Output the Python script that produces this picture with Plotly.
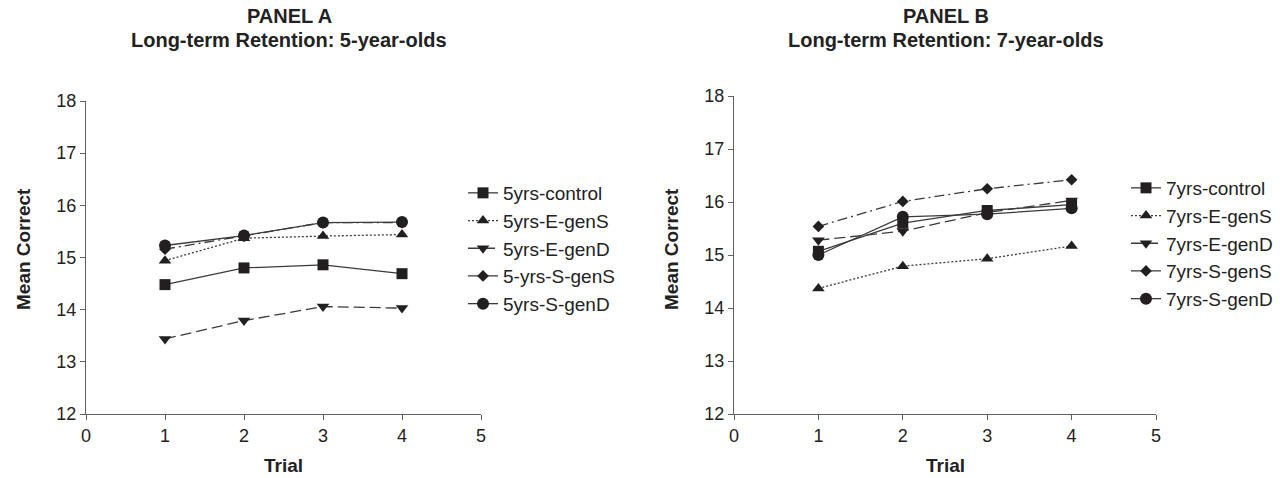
import plotly.graph_objects as go

trials = [1, 2, 3, 4]

# Panel A (5-year-olds)
a_control = [14.48, 14.80, 14.86, 14.69]
a_e_gens = [14.94, 15.37, 15.41, 15.44]
a_e_gend = [13.44, 13.79, 14.06, 14.03]
a_s_gens = [15.16, 15.41, 15.67, 15.67]
a_s_gend = [15.23, 15.42, 15.67, 15.68]

# Panel B (7-year-olds)
b_control = [15.07, 15.60, 15.84, 15.95]
b_e_gens = [14.37, 14.79, 14.93, 15.17]
b_e_gend = [15.28, 15.45, 15.80, 16.03]
b_s_gens = [15.54, 16.01, 16.25, 16.42]
b_s_gend = [15.00, 15.72, 15.77, 15.88]

names_a = ["5yrs-control", "5yrs-E-genS", "5yrs-E-genD", "5-yrs-S-genS", "5yrs-S-genD"]
names_b = ["7yrs-control", "7yrs-E-genS", "7yrs-E-genD", "7yrs-S-genS", "7yrs-S-genD"]

x_ticks = [0, 1, 2, 3, 4, 5]
y_ticks = [12, 13, 14, 15, 16, 17, 18]

symbols = ["square", "triangle-up", "triangle-down", "diamond", "circle"]
dashes = ["solid", "2px,2px", "11px,5px", "10px,4px,2px,4px", "solid"]
msizes = [11, 11, 11, 9, 12]

INK = "#231f20"
LINE = "#3a3a3a"
AXIS = "#606060"
TXT = "#222222"
FONT = "Liberation Sans, Arial, sans-serif"

W, H = 1288, 478

fig = go.Figure()

series_a = [a_control, a_e_gens, a_e_gend, a_s_gens, a_s_gend]
series_b = [b_control, b_e_gens, b_e_gend, b_s_gens, b_s_gend]

for i, (nm, ys) in enumerate(zip(names_a, series_a)):
    fig.add_trace(go.Scatter(
        x=trials, y=ys, name=nm, mode="lines+markers",
        line=dict(color=LINE, width=1.3, dash=dashes[i]),
        marker=dict(symbol=symbols[i], size=msizes[i], color=INK),
        xaxis="x", yaxis="y", legend="legend", legendgroup="a%d" % i,
    ))
for i, (nm, ys) in enumerate(zip(names_b, series_b)):
    fig.add_trace(go.Scatter(
        x=trials, y=ys, name=nm, mode="lines+markers",
        line=dict(color=LINE, width=1.3, dash=dashes[i]),
        marker=dict(symbol=symbols[i], size=msizes[i], color=INK),
        xaxis="x2", yaxis="y2", legend="legend2", legendgroup="b%d" % i,
    ))

def px_x(p):
    return p / W

def px_y(p):
    return 1 - p / H

axis_common = dict(
    showline=True, linecolor=AXIS, linewidth=1.3,
    ticks="outside", ticklen=5, tickcolor=AXIS, tickwidth=1.2,
    showgrid=False, zeroline=False, automargin=False,
    tickfont=dict(family=FONT, size=18, color=TXT),
)

legend_common = dict(
    xanchor="left", yanchor="top",
    font=dict(family=FONT, size=19, color=TXT),
    bgcolor="rgba(0,0,0,0)", borderwidth=0, tracegroupgap=0,
    traceorder="grouped", itemwidth=30,
)

fig.update_layout(
    template="none",
    width=W, height=H,
    margin=dict(l=0, r=0, t=0, b=0, autoexpand=False),
    paper_bgcolor="white", plot_bgcolor="white",
    showlegend=True,
    xaxis=dict(domain=[px_x(86), px_x(481)], range=[0, 5], tickvals=x_ticks,
               anchor="y", **axis_common),
    yaxis=dict(domain=[px_y(414), px_y(101)], range=[12, 18], tickvals=y_ticks,
               anchor="x", **axis_common),
    xaxis2=dict(domain=[px_x(734), px_x(1156)], range=[0, 5], tickvals=x_ticks,
                anchor="y2", **axis_common),
    yaxis2=dict(domain=[px_y(414), px_y(96)], range=[12, 18], tickvals=y_ticks,
                anchor="x2", **axis_common),
    legend=dict(x=px_x(463), y=px_y(174), **legend_common),
    legend2=dict(x=px_x(1126), y=px_y(169), **legend_common),
)

title_font = dict(family=FONT, size=20, color=TXT)
annos = [
    dict(text="<b>PANEL A</b>", x=px_x(289), y=px_y(16)),
    dict(text="<b>Long-term Retention: 5-year-olds</b>", x=px_x(289), y=px_y(40)),
    dict(text="<b>PANEL B</b>", x=px_x(946), y=px_y(16)),
    dict(text="<b>Long-term Retention: 7-year-olds</b>", x=px_x(946), y=px_y(40)),
]
for a in annos:
    fig.add_annotation(xref="paper", yref="paper", showarrow=False,
                       xanchor="center", yanchor="middle", font=title_font, **a)
for xx in (283, 945):
    fig.add_annotation(xref="paper", yref="paper", showarrow=False,
                       x=px_x(xx), y=px_y(465), text="<b>Trial</b>",
                       xanchor="center", yanchor="middle",
                       font=dict(family=FONT, size=19, color=TXT))
for xx in (23, 671):
    fig.add_annotation(xref="paper", yref="paper", showarrow=False,
                       x=px_x(xx), y=px_y(249), text="<b>Mean Correct</b>",
                       textangle=-90, xanchor="center", yanchor="middle",
                       font=dict(family=FONT, size=19, color=TXT))

fig.write_html("out.html",
               config={"displayModeBar": False},
               post_script="document.body.style.margin='0';"
                           "document.body.style.overflow='hidden';")
